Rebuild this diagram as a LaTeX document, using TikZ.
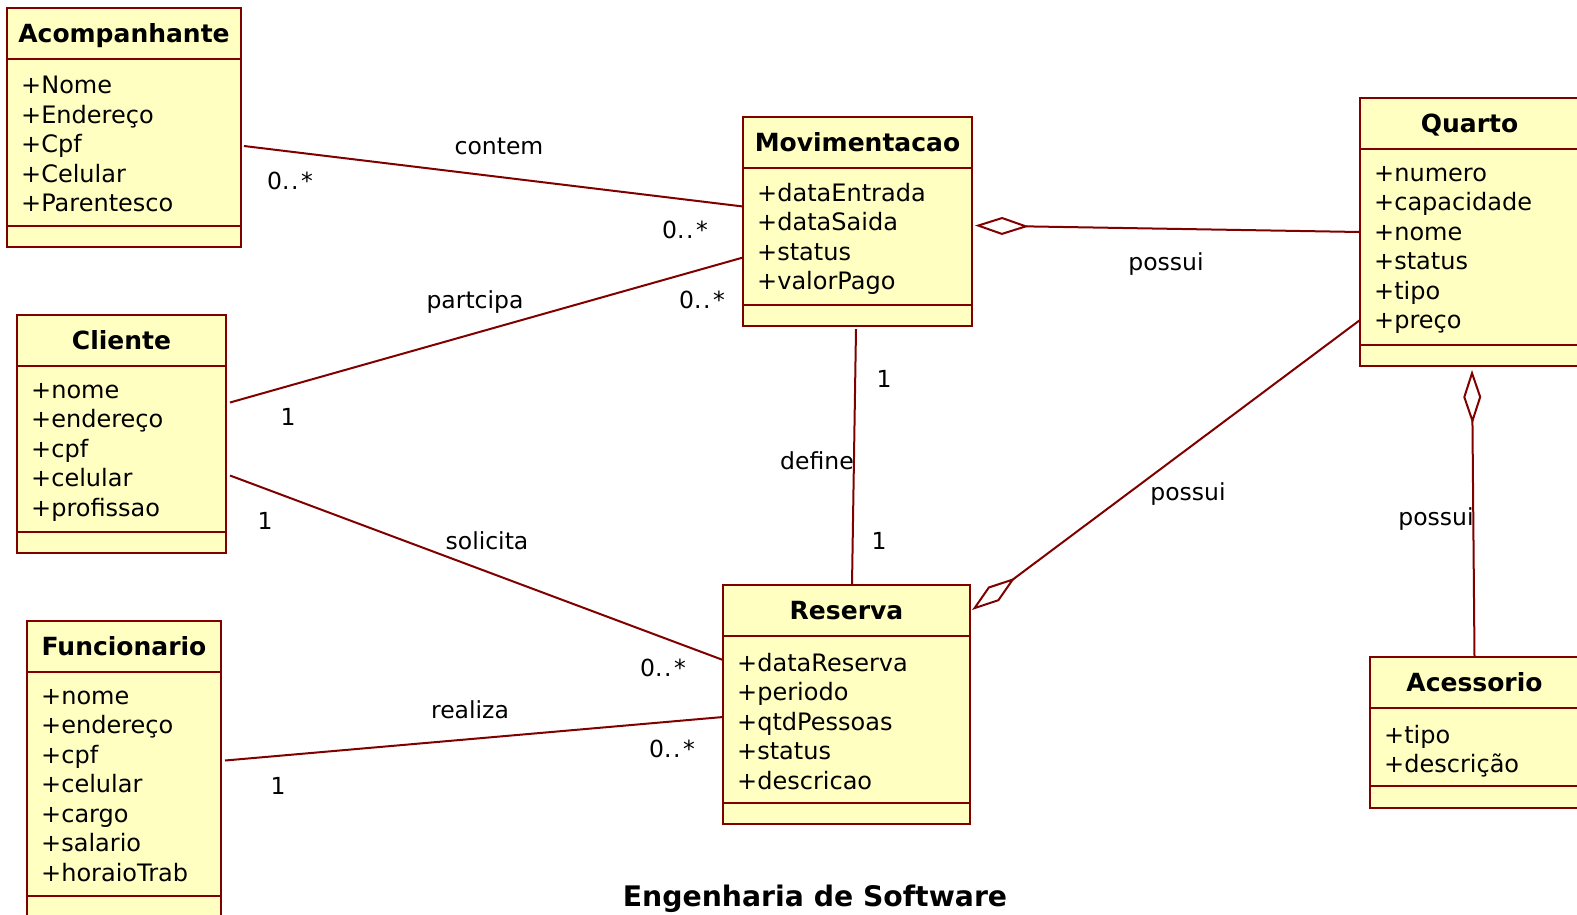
\documentclass[tikz,border=0pt]{standalone}
\usepackage{fontspec}
\setmainfont{DejaVu Sans}
\usetikzlibrary{arrows.meta,calc}

\definecolor{umlred}{RGB}{128,0,0}
\definecolor{umlfill}{RGB}{255,255,194}

\begin{document}
\begin{tikzpicture}[
        x=1pt, y=-1pt,
        classbox/.style={draw=umlred, fill=umlfill, line width=2.8pt, anchor=north west, inner sep=0pt, outer sep=0pt},
        classline/.style={draw=umlred, line width=2.8pt},
        classname/.style={anchor=base, font=\fontsize{25}{30}\selectfont\bfseries},
        attrs/.style={anchor=north west, align=left, inner sep=0pt, font=\fontsize{24}{29.5}\selectfont},
        assoc/.style={draw=umlred, line width=2pt},
        aggr/.style={assoc, -{Diamond[open, length=54pt, width=18pt]}},
        lbl/.style={anchor=base, inner sep=0pt, font=\fontsize{23.5}{28}\selectfont}
    ]
        \useasboundingbox (0,0) rectangle (1577,914);
        \fill[white] (0,0) rectangle (1577,914);

        % classes
        \node[classbox, minimum width=234pt, minimum height=239pt] (acomp) at (7,8) {};
        \draw[classline] ([yshift=-51pt]acomp.north west) -- ([yshift=-51pt]acomp.north east);
        \draw[classline] ([yshift=-218pt]acomp.north west) -- ([yshift=-218pt]acomp.north east);
        \node[classname] (acomp name) at ([yshift=-34pt]acomp.north) {Acompanhante};
        \node[attrs] (acomp attrs) at ([xshift=14pt,yshift=-68pt]acomp.north west) {+Nome\\+Endereço\\+Cpf\\+Celular\\+Parentesco};

        \node[classbox, minimum width=229pt, minimum height=209pt] (movim) at (743,117) {};
        \draw[classline] ([yshift=-51pt]movim.north west) -- ([yshift=-51pt]movim.north east);
        \draw[classline] ([yshift=-188pt]movim.north west) -- ([yshift=-188pt]movim.north east);
        \node[classname] (movim name) at ([yshift=-34pt]movim.north) {Movimentacao};
        \node[attrs] (movim attrs) at ([xshift=14pt,yshift=-66pt]movim.north west) {+dataEntrada\\+dataSaida\\+status\\+valorPago};

        \node[classbox, minimum width=219pt, minimum height=268pt] (quarto) at (1360,98) {};
        \draw[classline] ([yshift=-51pt]quarto.north west) -- ([yshift=-51pt]quarto.north east);
        \draw[classline] ([yshift=-247pt]quarto.north west) -- ([yshift=-247pt]quarto.north east);
        \node[classname] (quarto name) at ([yshift=-34pt]quarto.north) {Quarto};
        \node[attrs] (quarto attrs) at ([xshift=14pt,yshift=-68pt]quarto.north west) {+numero\\+capacidade\\+nome\\+status\\+tipo\\+preço};

        \node[classbox, minimum width=209pt, minimum height=238pt] (cliente) at (17,315) {};
        \draw[classline] ([yshift=-51pt]cliente.north west) -- ([yshift=-51pt]cliente.north east);
        \draw[classline] ([yshift=-217pt]cliente.north west) -- ([yshift=-217pt]cliente.north east);
        \node[classname] (cliente name) at ([yshift=-34pt]cliente.north) {Cliente};
        \node[attrs] (cliente attrs) at ([xshift=14pt,yshift=-68pt]cliente.north west) {+nome\\+endereço\\+cpf\\+celular\\+profissao};

        \node[classbox, minimum width=194pt, minimum height=296pt] (func) at (27,621) {};
        \draw[classline] ([yshift=-51pt]func.north west) -- ([yshift=-51pt]func.north east);
        \draw[classline] ([yshift=-275pt]func.north west) -- ([yshift=-275pt]func.north east);
        \node[classname] (func name) at ([yshift=-34pt]func.north) {Funcionario};
        \node[attrs] (func attrs) at ([xshift=14pt,yshift=-68pt]func.north west) {+nome\\+endereço\\+cpf\\+celular\\+cargo\\+salario\\+horaioTrab};

        \node[classbox, minimum width=247pt, minimum height=239pt] (reserva) at (723,585) {};
        \draw[classline] ([yshift=-51pt]reserva.north west) -- ([yshift=-51pt]reserva.north east);
        \draw[classline] ([yshift=-218pt]reserva.north west) -- ([yshift=-218pt]reserva.north east);
        \node[classname] (reserva name) at ([yshift=-34pt]reserva.north) {Reserva};
        \node[attrs] (reserva attrs) at ([xshift=14pt,yshift=-68pt]reserva.north west) {+dataReserva\\+periodo\\+qtdPessoas\\+status\\+descricao};

        \node[classbox, minimum width=209pt, minimum height=151pt] (acess) at (1370,657) {};
        \draw[classline] ([yshift=-51pt]acess.north west) -- ([yshift=-51pt]acess.north east);
        \draw[classline] ([yshift=-129pt]acess.north west) -- ([yshift=-129pt]acess.north east);
        \node[classname] (acess name) at ([yshift=-34pt]acess.north) {Acessorio};
        \node[attrs] (acess attrs) at ([xshift=14pt,yshift=-68pt]acess.north west) {+tipo\\+descrição};

        % associations
        \draw[assoc] ([xshift=3pt,yshift=-18.5pt]acomp.east) -- ([yshift=15pt]movim.west);
        \draw[assoc] ([xshift=4pt,yshift=31.5pt]cliente.east) -- ([yshift=-36pt]movim.west);
        \draw[assoc] ([xshift=4pt,yshift=-41.5pt]cliente.east) -- ([yshift=44.5pt]reserva.west);
        \draw[assoc] ([xshift=4pt,yshift=8.5pt]func.east) -- ([yshift=-12.5pt]reserva.west);
        \draw[assoc] ([xshift=-1.5pt,yshift=-3pt]movim.south) -- ([xshift=5.5pt]reserva.north);
        \draw[aggr] (quarto.west) -- ([xshift=3pt,yshift=-4pt]movim.east);
        \draw[aggr] ([yshift=-88pt]quarto.west) -- ([xshift=2pt,yshift=94.5pt]reserva.east);
        \draw[aggr] (acess.north) -- ([xshift=2.5pt,yshift=-4pt]quarto.south);

        % labels
        \node[lbl] (contem) at (499,154) {contem};
        \node[lbl] (contem a) at (290,189) {0.\kern1.5pt.\kern2.5pt*};
        \node[lbl] (contem b) at (685,238) {0.\kern1.5pt.\kern2.5pt*};
        \node[lbl] (partcipa) at (475,308) {partcipa};
        \node[lbl] (partcipa a) at (288,425) {1};
        \node[lbl] (partcipa b) at (702,308) {0.\kern1.5pt.\kern2.5pt*};
        \node[lbl] (solicita) at (487,549) {solicita};
        \node[lbl] (solicita a) at (265,529) {1};
        \node[lbl] (solicita b) at (663,676) {0.\kern1.5pt.\kern2.5pt*};
        \node[lbl] (realiza) at (470,718) {realiza};
        \node[lbl] (realiza a) at (278,794) {1};
        \node[lbl] (realiza b) at (672,757) {0.\kern1.5pt.\kern2.5pt*};
        \node[lbl] (define a) at (884,387) {1};
        \node[lbl] (define) at (817,469) {define};
        \node[lbl] (define b) at (879,549) {1};
        \node[lbl] (possui mq) at (1166,270) {possui};
        \node[lbl] (possui rq) at (1188,500) {possui};
        \node[lbl] (possui qa) at (1436,525) {possui};

        \node[anchor=base, font=\fontsize{28.3}{34}\selectfont\bfseries] (title) at (815,906) {Engenharia de Software};
    \end{tikzpicture}
\end{document}
